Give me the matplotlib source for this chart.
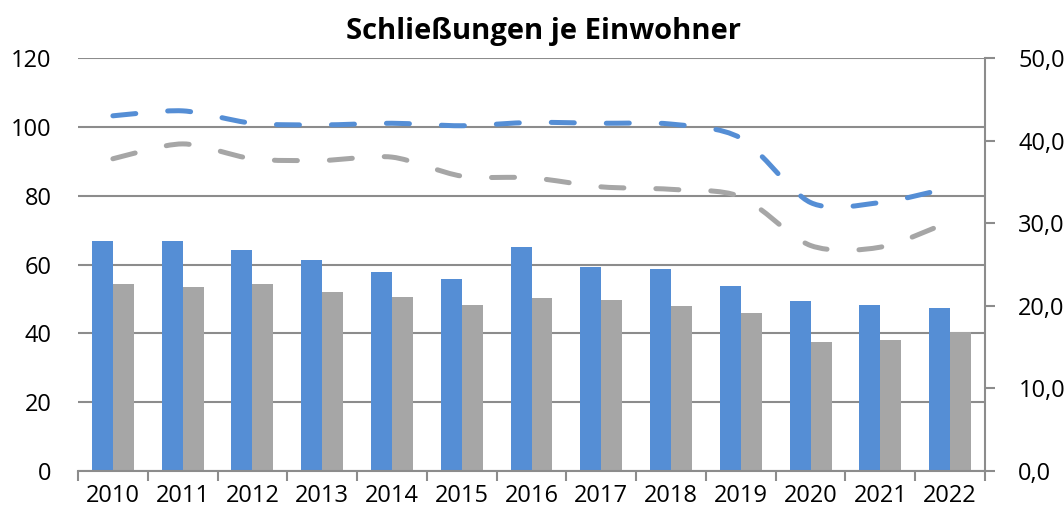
import numpy as np
import matplotlib
matplotlib.use('Agg')
import matplotlib.pyplot as plt
from matplotlib.path import Path
from matplotlib.patches import PathPatch
from matplotlib.ticker import FuncFormatter

# data
years = ['2010', '2011', '2012', '2013', '2014', '2015', '2016',
         '2017', '2018', '2019', '2020', '2021', '2022']
bars_blue = [66.8, 66.8, 64.3, 61.4, 57.8, 55.8, 65.1, 59.4, 58.8, 53.8, 49.5, 48.2, 47.4]
bars_grey = [54.2, 53.6, 54.4, 52.1, 50.5, 48.2, 50.4, 49.8, 48.0, 45.9, 37.6, 38.0, 40.5]
line_blue = [43.0, 43.6, 42.1, 41.9, 42.1, 41.8, 42.2, 42.1, 42.0, 40.3, 32.5, 32.5, 34.3]
line_grey = [37.8, 39.6, 37.8, 37.6, 38.0, 35.7, 35.5, 34.4, 34.1, 33.2, 27.3, 27.1, 30.2]

BLUE = '#558ed5'
GREY = '#a6a6a6'
AXIS = '#8c8c8c'

plt.rcParams['font.family'] = ['Open Sans', 'DejaVu Sans']

fig = plt.figure(figsize=(10.64, 5.17), dpi=100)
ax = fig.add_axes([78 / 1064, 1 - 471 / 517, (985 - 78) / 1064, (471 - 58) / 517])
ax2 = ax.twinx()

x = np.arange(len(years))
w = 0.3
ax.bar(x - w / 2, bars_blue, width=w, color=BLUE, zorder=2)
ax.bar(x + w / 2, bars_grey, width=w, color=GREY, zorder=2)

ax.set_xlim(-0.5, len(years) - 0.5)
ax.set_ylim(0, 120)
ax.set_yticks(range(0, 121, 20))
ax.yaxis.grid(True, color=AXIS, linewidth=1.5, zorder=0)
ax.set_axisbelow(True)
ax.tick_params(axis='y', length=0, labelsize=17, pad=19)

ax.set_xticks(x)
ax.set_xticklabels(years)
ax.set_xticks(np.arange(-0.5, len(years)), minor=True)
ax.tick_params(axis='x', which='major', length=0, labelsize=17, pad=9)
ax.tick_params(axis='x', which='minor', length=7, width=1.5, color=AXIS, direction='out')

for s in ['top', 'left', 'right']:
    ax.spines[s].set_visible(False)
ax.spines['bottom'].set_color(AXIS)
ax.spines['bottom'].set_linewidth(1.5)


def smooth_path(xs, ys, t=1 / 7.0):
    # Excel style smoothed line: cubic bezier segments through the points
    pts = np.column_stack([xs, ys]).astype(float)
    verts = [pts[0]]
    codes = [Path.MOVETO]
    n = len(pts)
    for i in range(n - 1):
        p0 = pts[max(i - 1, 0)]
        p1 = pts[i]
        p2 = pts[i + 1]
        p3 = pts[min(i + 2, n - 1)]
        c1 = p1 + (p2 - p0) * t
        c2 = p2 - (p3 - p1) * t
        verts += [c1, c2, p2]
        codes += [Path.CURVE4] * 3
    return Path(verts, codes)


for vals, col in [(line_grey, GREY), (line_blue, BLUE)]:
    patch = PathPatch(smooth_path(x, vals), facecolor='none', edgecolor=col,
                      linewidth=3.6, linestyle=(0, (4.6, 6.4)), capstyle='round',
                      zorder=3)
    ax2.add_patch(patch)

ax2.set_ylim(0, 50)
ax2.set_yticks(range(0, 51, 10))
ax2.yaxis.set_major_formatter(FuncFormatter(lambda v, p: f'{v:.1f}'.replace('.', ',')))
ax2.tick_params(axis='y', length=7, width=1.5, color=AXIS, direction='out',
                labelsize=17, pad=17)
for s in ['top', 'left', 'bottom']:
    ax2.spines[s].set_visible(False)
ax2.spines['right'].set_color(AXIS)
ax2.spines['right'].set_linewidth(1.5)

fig.text(0.511, 0.94, 'Schließungen je Einwohner', ha='center', va='center',
         fontsize=21, fontweight='bold')

fig.savefig('out.png', dpi=100)
